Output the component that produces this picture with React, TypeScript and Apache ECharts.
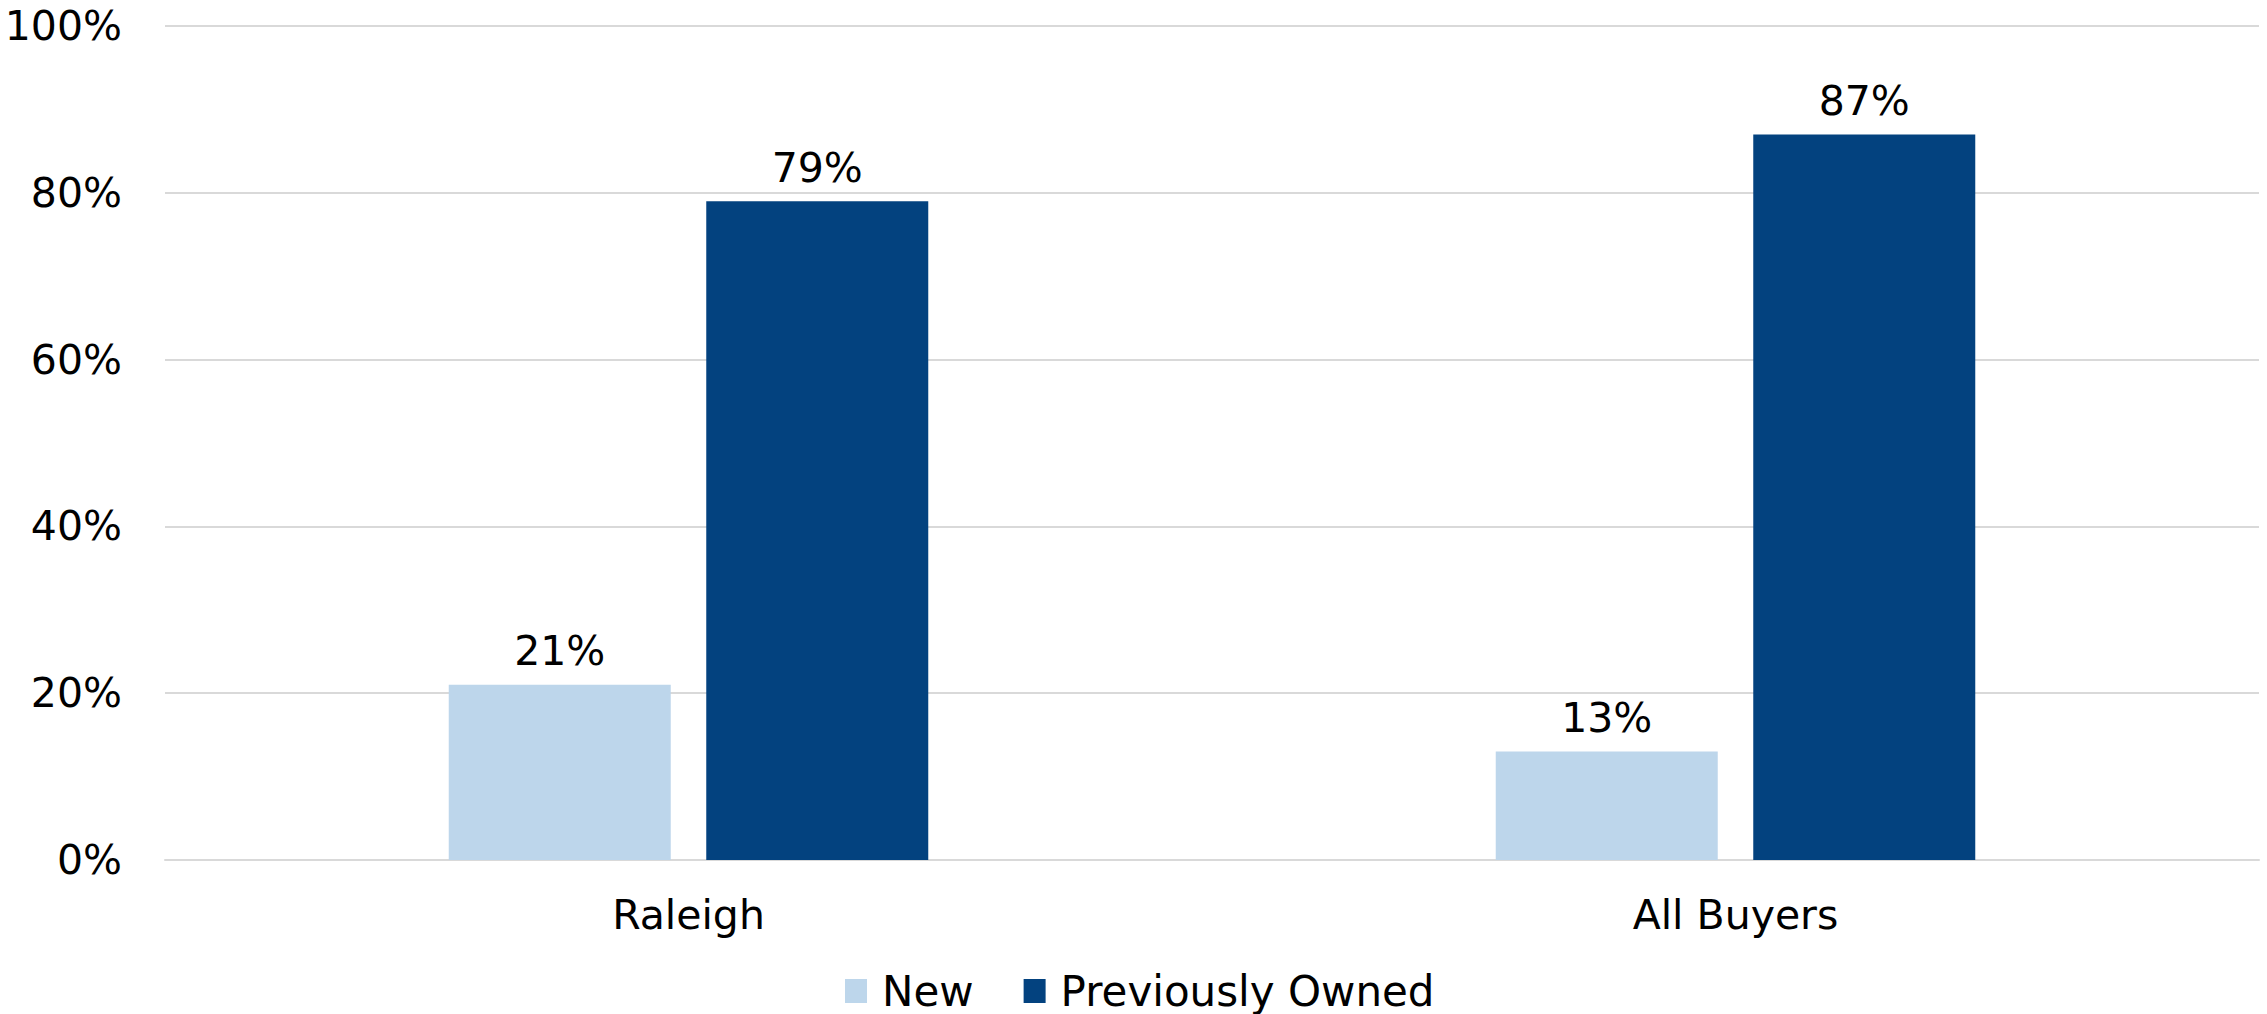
import React, { useEffect, useRef } from "react";
import * as echarts from "echarts";

const categories = ["Raleigh", "All Buyers"];
const newValues = [21, 13];
const previouslyOwnedValues = [79, 87];
const seriesNames = ["New", "Previously Owned"];
const yTicks = [0, 20, 40, 60, 80, 100];

const FONT = "DejaVu Sans";
const LIGHT = "#BDD6EB";
const DARK = "#03427F";

export default function App() {
  const ref = useRef<HTMLDivElement>(null);
  useEffect(() => {
    document.body.style.margin = "0";
    const chart = echarts.init(ref.current!, null, { renderer: "svg" });
    const labelCfg = {
      show: true,
      position: "top" as const,
      distance: 13,
      formatter: "{c}%",
      fontFamily: FONT,
      fontSize: 41,
      color: "#000000",
    };
    chart.setOption({
      animation: false,
      backgroundColor: "#ffffff",
      grid: { left: 165, right: 8, top: 26, bottom: 154, containLabel: false },
      legend: {
        data: seriesNames,
        left: 845,
        top: 969,
        padding: 0,
        itemWidth: 22,
        itemHeight: 24,
        itemGap: 50,
        icon: "rect",
        textStyle: {
          fontFamily: FONT,
          fontSize: 42,
          lineHeight: 44,
          color: "#000000",
          padding: [0, 0, 0, 10],
        },
      },
      xAxis: {
        type: "category",
        data: categories,
        axisLine: { show: true, lineStyle: { color: "#D9D9D9", width: 2 } },
        axisTick: { show: false },
        axisLabel: {
          margin: 34,
          fontFamily: FONT,
          fontSize: 41,
          color: "#000000",
        },
      },
      yAxis: {
        type: "value",
        min: yTicks[0],
        max: yTicks[yTicks.length - 1],
        interval: 20,
        axisLine: { show: false },
        axisTick: { show: false },
        splitLine: { lineStyle: { color: "#D9D9D9", width: 2 } },
        axisLabel: {
          margin: 43,
          fontFamily: FONT,
          fontSize: 41,
          color: "#000000",
          formatter: "{value}%",
        },
      },
      series: [
        {
          name: seriesNames[0],
          type: "bar",
          data: newValues,
          barWidth: 222,
          barGap: "16%",
          itemStyle: { color: LIGHT },
          label: labelCfg,
        },
        {
          name: seriesNames[1],
          type: "bar",
          data: previouslyOwnedValues,
          barWidth: 222,
          barGap: "16%",
          itemStyle: { color: DARK },
          label: labelCfg,
        },
      ],
    });
    return () => chart.dispose();
  }, []);
  return (
    <div
      ref={ref}
      style={{ position: "fixed", left: 0, top: 0, width: 2267, height: 1014 }}
    />
  );
}
